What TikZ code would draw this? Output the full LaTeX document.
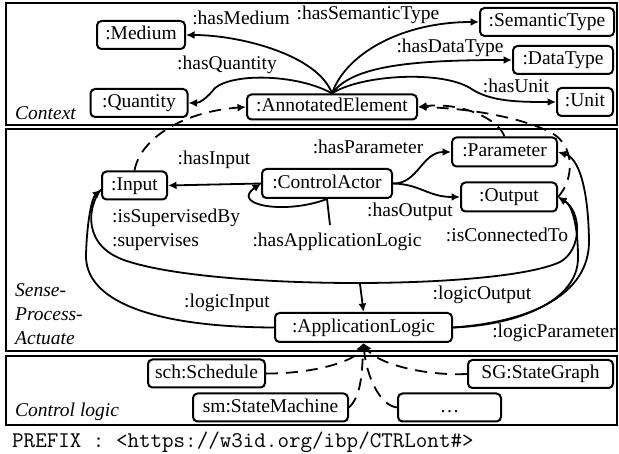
\documentclass[tikz,border=0pt]{standalone}
\usepackage{fontspec}
\setmainfont{Liberation Serif}
\usetikzlibrary{arrows.meta}

\begin{document}
\begin{tikzpicture}[x=1pt,y=-1pt,
  every node/.style={font=\fontsize{19.5pt}{24pt}\selectfont, inner sep=0pt},
  txt/.style={text height=13.5pt, text depth=4.2pt},
  cls/.style={txt, draw, line width=2pt, rounded corners=4.5pt, minimum height=28pt},
  lbl/.style={txt},
  rel/.style={line width=1.8pt, -{Latex[length=8.5pt,width=8pt]}},
  plain/.style={line width=1.8pt},
  sub/.style={rel, dash pattern=on 12pt off 8pt},
  panel/.style={draw, line width=1.5pt},
  tag/.style={font=\fontsize{19.5pt}{24pt}\selectfont\itshape, anchor=west, align=left},
]
\useasboundingbox (0,0) rectangle (619,454);

% layer frames
\draw[panel] (6,3) rectangle (617,125);
\draw[panel] (6,129) rectangle (617,351);
\draw[panel] (6,356) rectangle (617,425);

% --- Context ---
\node[cls, minimum width=88pt]  (medium)   at (141,35)  {:Medium};
\node[cls, minimum width=134pt] (semtype)  at (547,22)  {:SemanticType};
\node[cls, minimum width=100pt] (datatype) at (563,60)  {:DataType};
\node[cls, minimum width=97pt]  (quantity) at (139,103) {:Quantity};
\node[cls, minimum width=170pt, minimum height=25pt] (annot) at (332,107) {:AnnotatedElement};
\node[cls, minimum width=56pt]  (unit)     at (585,102) {:Unit};

% --- Sense-Process-Actuate ---
\node[cls, minimum width=65pt]  (input)    at (134.5,185.5) {:Input};
\node[cls, minimum width=130pt, minimum height=29pt] (actor) at (327,183.5) {:ControlActor};
\node[cls, minimum width=105pt, minimum height=29pt] (param) at (504.5,152) {:Parameter};
\node[cls, minimum width=96pt, minimum height=29pt]  (output) at (509,197) {:Output};
\node[cls, minimum width=177pt, minimum height=29pt] (applogic) at (363.5,327.5) {:ApplicationLogic};

% --- Control logic ---
\node[cls, minimum width=117pt] (schedule)     at (206.5,373.5) {sch:Schedule};
\node[cls, minimum width=155pt] (statemachine) at (270.5,407.5) {sm:StateMachine};
\node[cls, minimum width=145pt] (stategraph)   at (540.5,374)   {SG:StateGraph};
\node[cls, minimum width=103pt] (more)         at (449.5,407.5) {…};

% context properties
\draw[rel] (annot.north) .. controls (318,55) and (240,35) .. (medium.east);
\draw[rel] (annot.north) .. controls (345,55) and (400,22) .. (semtype.west);
\draw[rel] (annot.north) .. controls (352,66) and (410,60) .. (datatype.west);
\draw[rel] (annot.north) .. controls (360,75) and (440,70) .. (470,88) .. controls (490,102) and (520,102) .. (unit.west);
\draw[rel] (annot.north) .. controls (300,75) and (235,72) .. (215,88) .. controls (208,97) and (200,103) .. (quantity.east);

% control actor properties
\draw[rel] (actor.west) -- (input.east);
\draw[rel] (actor.east) .. controls (418,184) and (422,152) .. (param.west);
\draw[rel] (actor.east) .. controls (420,184) and (428,197) .. (output.west);
\draw[rel] (actor.south) .. controls (285,215) and (230,205) .. (actor.west);
\coordinate (halTop) at (330,225);
\coordinate (halBot) at (360,284);
\draw[plain] (actor.south) -- (halTop);
\draw[rel] (halBot) -- (applogic.north);

% connections and application logic
\draw[rel] ([yshift=-4pt]input.west) .. controls (88,205) and (80,248) .. (130,262) .. controls (220,290) and (500,290) .. (560,262) .. controls (582,250) and (582,212) .. (output.east);
\draw[rel] (applogic.west) .. controls (150,327) and (85,300) .. (86,255) .. controls (87,220) and (92,198) .. ([yshift=-4pt]input.west);
\draw[rel] (applogic.east) .. controls (520,325) and (578,300) .. (578,258) .. controls (578,225) and (572,205) .. (output.east);
\draw[rel] (applogic.east) .. controls (530,322) and (590,295) .. (589,240) .. controls (588,185) and (578,158) .. (param.east);

% subclass links
\draw[sub] (input.north) .. controls (140,140) and (180,112) .. (annot.west);
\draw[sub] (param.north) .. controls (498,118) and (460,102) .. (annot.east);
\draw[sub] (output.east) .. controls (574,180) and (576,145) .. (550,132) .. controls (515,115) and (460,108) .. (annot.east);
\draw[sub] (schedule.east) .. controls (310,374) and (355,362) .. (applogic.south);
\draw[sub] (statemachine.east) .. controls (362,395) and (362,370) .. (applogic.south);
\draw[sub] (more.west) .. controls (378,405) and (366,372) .. (applogic.south);
\draw[sub] (stategraph.west) .. controls (420,376) and (375,362) .. (applogic.south);

% property names
\node[lbl] (lMedium) at (241,20)  {:hasMedium};
\node[lbl] (lSem)    at (368,15)  {:hasSemanticType};
\node[lbl] (lData)   at (450,48)  {:hasDataType};
\node[lbl] (lQty)    at (227,65)  {:hasQuantity};
\node[lbl] (lUnit)   at (516,88)  {:hasUnit};
\node[lbl] (lInput)  at (214,160) {:hasInput};
\node[lbl] (lParam)  at (368,149) {:hasParameter};
\node[lbl] (lOutput) at (410,212) {:hasOutput};
\node[lbl, anchor=west] (lSupBy) at (112,218) {:isSupervisedBy};
\node[lbl, anchor=west] (lSup)   at (112,242) {:supervises};
\node[lbl] (lAppLogic) at (337,242) {:hasApplicationLogic};
\node[lbl] (lConn)   at (507,237) {:isConnectedTo};
\node[lbl] (lLogIn)  at (227,303) {:logicInput};
\node[lbl] (lLogOut) at (482,295) {:logicOutput};
\node[lbl] (lLogPar) at (554,333) {:logicParameter};

% layer titles
\node[tag] (tContext) at (15,113) {Context};
\node[tag] (tSPA) at (15,314) {Sense-\\Process-\\Actuate};
\node[tag] (tControl) at (15,412) {Control logic};

\node[anchor=west, font=\fontsize{22.4pt}{26pt}\selectfont\ttfamily] (prefix) at (12,442) {PREFIX : <https://w3id.org/ibp/CTRLont\#>};
\end{tikzpicture}
\end{document}
